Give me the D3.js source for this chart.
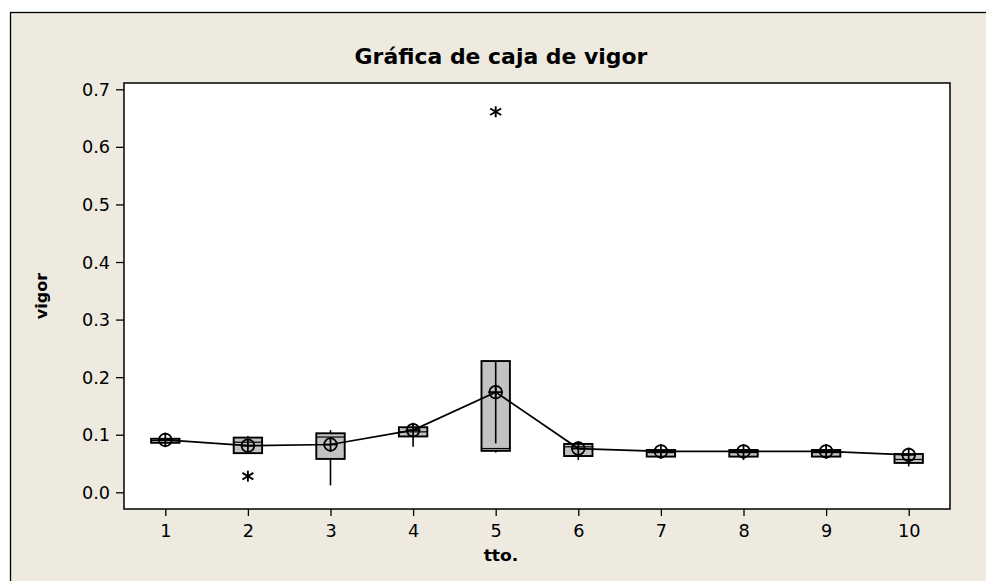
<!DOCTYPE html>
<html>
<head>
<meta charset="utf-8">
<script src="https://cdnjs.cloudflare.com/ajax/libs/d3/7.8.5/d3.min.js"></script>
<style>
  html, body { margin: 0; padding: 0; background: #ffffff; }
  svg { display: block; }
</style>
</head>
<body>
<div id="chart"></div>
<script>
// Treatment groups (x axis) and the box-plot summary of "vigor" for each
const tto         = [1, 2, 3, 4, 5, 6, 7, 8, 9, 10];
const q1          = [0.086, 0.068, 0.058, 0.097, 0.072, 0.063, 0.062, 0.062, 0.062, 0.051];
const medians     = [0.090, 0.087, 0.096, 0.105, 0.076, 0.079, 0.069, 0.069, 0.069, 0.057];
const q3          = [0.093, 0.095, 0.1025, 0.113, 0.228, 0.084, 0.0735, 0.0735, 0.0735, 0.0665];
const whiskerLow  = [0.086, 0.068, 0.012, 0.079, 0.069, 0.056, 0.060, 0.056, 0.060, 0.045];
const whiskerHigh = [0.093, 0.098, 0.108, 0.118, 0.228, 0.084, 0.0745, 0.0735, 0.0735, 0.0665];
const means       = [0.091, 0.081, 0.083, 0.108, 0.174, 0.076, 0.071, 0.071, 0.071, 0.065];
// Outlying observations, drawn as asterisks
const outlierTto  = [2, 5];
const outlierVals = [0.028, 0.661];
// Vertical rule drawn inside the box of treatment 5
const innerLineTto = [5];
const innerLineLow = [0.085];
const innerLineHigh = [0.228];
// Axis ticks
const yTicks = [0.0, 0.1, 0.2, 0.3, 0.4, 0.5, 0.6, 0.7];
const xTicks = tto;

const W = 986, H = 581;
const plot = { left: 124, right: 950, top: 83, bottom: 509 };
const textStretch = 1.04;

const svg = d3.select("#chart").append("svg")
  .attr("width", W).attr("height", H);

// Beige graph frame
svg.append("rect")
  .attr("x", 10.5).attr("y", 12.5)
  .attr("width", W + 20).attr("height", H + 20)
  .attr("fill", "#eeeae0")
  .attr("stroke", "#000").attr("stroke-width", 1.3);

const x = d3.scaleLinear().domain([0.5, 10.5]).range([plot.left, plot.right]);
const y = d3.scaleLinear().domain([0, 0.7]).range([492.3, 89.3]);

// Data region
svg.append("rect")
  .attr("x", plot.left).attr("y", plot.top)
  .attr("width", plot.right - plot.left).attr("height", plot.bottom - plot.top)
  .attr("fill", "#ffffff").attr("stroke", "#000").attr("stroke-width", 1.5);

const font = "'DejaVu Sans', Verdana, sans-serif";

// Helper: horizontally stretched text anchored at (tx, ty)
function label(g, tx, ty, txt, opts) {
  const t = g.append("text")
    .attr("transform", `translate(${tx},${ty}) scale(${opts.sx || textStretch},1)`)
    .attr("text-anchor", opts.anchor || "middle")
    .attr("font-family", font)
    .attr("font-size", opts.size)
    .attr("font-weight", opts.weight || "normal")
    .attr("fill", "#000")
    .text(txt);
  if (opts.dy) t.attr("dy", opts.dy);
  return t;
}

// Y axis
const yAxis = d3.axisLeft(y).tickValues(yTicks).tickSize(8).tickFormat(d3.format(".1f"));
const gy = svg.append("g").attr("transform", `translate(${plot.left},0)`).call(yAxis);
gy.select(".domain").remove();
gy.selectAll(".tick line").attr("stroke", "#000").attr("stroke-width", 1.3);
gy.selectAll(".tick text").remove();
gy.selectAll(".tick").each(function(d) {
  label(d3.select(this), -14, 0, d3.format(".1f")(d), { size: 17, anchor: "end", dy: "0.36em" });
});

// X axis
const xAxis = d3.axisBottom(x).tickValues(xTicks).tickSize(7).tickFormat(d3.format("d"));
const gx = svg.append("g").attr("transform", `translate(0,${plot.bottom})`).call(xAxis);
gx.select(".domain").remove();
gx.selectAll(".tick line").attr("stroke", "#000").attr("stroke-width", 1.3);
gx.selectAll(".tick text").remove();
gx.selectAll(".tick").each(function(d) {
  label(d3.select(this), 0, 27.5, d, { size: 17 });
});

// Titles
label(svg, 501, 64, "Gráfica de caja de vigor", { size: 20.5, weight: "bold", sx: 1.07 });
label(svg, 501, 561, "tto.", { size: 16.5, weight: "bold" });
svg.append("text")
  .attr("transform", `translate(47,${(plot.top + plot.bottom) / 2}) rotate(-90)`)
  .attr("text-anchor", "middle")
  .attr("font-family", font).attr("font-size", 16).attr("font-weight", "bold")
  .text("vigor");

// Box plots
const boxes = tto.map((t, i) => ({
  t, q1: q1[i], med: medians[i], q3: q3[i],
  lo: whiskerLow[i], hi: whiskerHigh[i], mean: means[i]
}));
const halfW = (x(1.172) - x(1));

const gb = svg.append("g").attr("stroke", "#000");
boxes.forEach(b => {
  const cx = x(b.t);
  // whiskers
  if (b.hi > b.q3) gb.append("line").attr("x1", cx).attr("x2", cx)
    .attr("y1", y(b.q3)).attr("y2", y(b.hi)).attr("stroke-width", 1.6);
  if (b.lo < b.q1) gb.append("line").attr("x1", cx).attr("x2", cx)
    .attr("y1", y(b.q1)).attr("y2", y(b.lo)).attr("stroke-width", 1.6);
  // box
  gb.append("rect")
    .attr("x", cx - halfW).attr("y", y(b.q3))
    .attr("width", 2 * halfW).attr("height", Math.max(1, y(b.q1) - y(b.q3)))
    .attr("fill", "#c2c2c2").attr("stroke-width", 1.9);
  // median
  gb.append("line")
    .attr("x1", cx - halfW).attr("x2", cx + halfW)
    .attr("y1", y(b.med)).attr("y2", y(b.med)).attr("stroke-width", 1.2);
});

// Rule inside treatment 5 box
innerLineTto.forEach((t, i) => {
  gb.append("line").attr("x1", x(t)).attr("x2", x(t))
    .attr("y1", y(innerLineHigh[i])).attr("y2", y(innerLineLow[i]))
    .attr("stroke-width", 1.6);
});

// Mean connect line
svg.append("path")
  .datum(boxes)
  .attr("fill", "none").attr("stroke", "#000").attr("stroke-width", 1.7)
  .attr("d", d3.line().x(d => x(d.t)).y(d => y(d.mean)));

// Mean symbols (circle with cross)
const gm = svg.append("g").attr("stroke", "#000").attr("stroke-width", 1.8).attr("fill", "none");
boxes.forEach(b => {
  const cx = x(b.t), cy = y(b.mean), r = 6.3;
  gm.append("circle").attr("cx", cx).attr("cy", cy).attr("r", r);
  gm.append("line").attr("x1", cx - r - 1).attr("x2", cx + r + 1).attr("y1", cy).attr("y2", cy);
  gm.append("line").attr("x1", cx).attr("x2", cx).attr("y1", cy - r - 1).attr("y2", cy + r + 1);
});

// Outliers
const go = svg.append("g").attr("stroke", "#000").attr("stroke-width", 1.9);
outlierTto.forEach((t, i) => {
  const cx = x(t), cy = y(outlierVals[i]), s = 5.5;
  go.append("line").attr("x1", cx).attr("x2", cx).attr("y1", cy - s).attr("y2", cy + s);
  go.append("line").attr("x1", cx - s).attr("x2", cx + s).attr("y1", cy - s * 0.6).attr("y2", cy + s * 0.6);
  go.append("line").attr("x1", cx - s).attr("x2", cx + s).attr("y1", cy + s * 0.6).attr("y2", cy - s * 0.6);
});
</script>
</body>
</html>
